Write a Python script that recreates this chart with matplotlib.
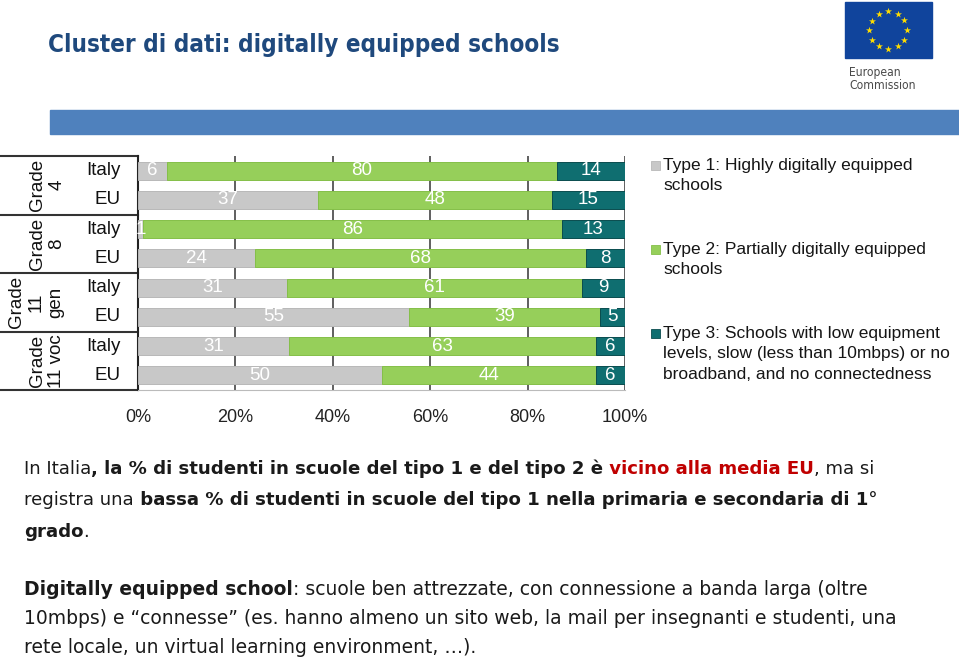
import numpy as np
import matplotlib
matplotlib.use("Agg")
import matplotlib.pyplot as plt
from matplotlib.patches import Rectangle
from matplotlib import font_manager as fm

# --- data -------------------------------------------------------------
groups = ["Grade\n4", "Grade\n8", "Grade\n11\ngen", "Grade\n11 voc"]
countries = ["Italy", "EU", "Italy", "EU", "Italy", "EU", "Italy", "EU"]
type1 = [6, 37, 1, 24, 31, 55, 31, 50]
type2 = [80, 48, 86, 68, 61, 39, 63, 44]
type3 = [14, 15, 13, 8, 9, 5, 6, 6]
legend_labels = ["Type 1: Highly digitally equipped\nschools",
                 "Type 2: Partially digitally equipped\nschools",
                 "Type 3: Schools with low equipment\nlevels, slow (less than 10mbps) or no\nbroadband, and no connectedness"]
xticks = [0, 20, 40, 60, 80, 100]
title = "Cluster di dati: digitally equipped schools"

colors = ["#c8c8c8", "#96cf5a", "#0f6e70"]
edges = ["#b8b8b8", "#84bf48", "#0a4c4e"]

W, H = 959, 659
body = "DejaVu Sans"


def find_condensed(bold):
    # look for any upright narrow / condensed face installed, else fall back
    for f in fm.fontManager.ttflist:
        cond = ("Narrow" in f.name or "Condensed" in f.name
                or str(f.stretch) in ("condensed", "semi-condensed", "extra-condensed"))
        isbold = f.weight in ("bold", 700, "semibold", 600)
        if cond and isbold == bold and f.style == "normal":
            return fm.FontProperties(fname=f.fname)
    return fm.FontProperties(family="Liberation Sans", weight="bold" if bold else "normal")


title_fp = find_condensed(True)
logo_fp = find_condensed(False)

fig = plt.figure(figsize=(W / 100, H / 100), dpi=100)
renderer = fig.canvas.get_renderer()

# background axes in pixel coordinates for slide decoration
bg = fig.add_axes([0, 0, 1, 1])
bg.set_xlim(0, W)
bg.set_ylim(H, 0)
bg.axis("off")


def fit_size(txt, width, base=10, fp=None, **kw):
    if fp is not None:
        fp = fp.copy()
        fp.set_size(base)
        t = bg.text(0, 0, txt, fontproperties=fp, **kw)
    else:
        t = bg.text(0, 0, txt, fontsize=base, **kw)
    w = t.get_window_extent(renderer).width
    t.remove()
    return base * width / w


# title
tfp = title_fp.copy()
tfp.set_size(fit_size(title, 507, fp=title_fp))
bg.text(48, 45, title, fontproperties=tfp, color="#1f497d", va="center", ha="left")

# EU logo
bg.add_patch(Rectangle((845, 2), 87, 56, color="#10449c"))
ang = np.arange(12) * np.pi / 6
bg.scatter(888 + 19 * np.cos(ang), 30 + 19 * np.sin(ang), marker="*", s=28,
           color="#ffdd00", lw=0)
lfp = logo_fp.copy()
lfp.set_size(fit_size("Commission", 66, fp=logo_fp))
bg.text(849, 76, "European", fontproperties=lfp, color="#4a4a4a", va="baseline")
bg.text(849, 89, "Commission", fontproperties=lfp, color="#4a4a4a", va="baseline")

# blue band
bg.add_patch(Rectangle((50, 110), W - 50, 24, color="#4f81bd"))

# --- chart -------------------------------------------------------------
ax = fig.add_axes([138 / W, 1 - 390 / H, (625 - 138) / W, (390 - 156) / H])
ax.set_facecolor("none")
vals = np.array([type1, type2, type3], dtype=float)
pct = vals / vals.sum(axis=0) * 100
y = np.arange(len(countries))
left = np.zeros(len(countries))
for k in range(3):
    ax.barh(y, pct[k], left=left, height=0.62, color=colors[k],
            edgecolor=edges[k], lw=0.7, zorder=3)
    for i in range(len(y)):
        ax.text(left[i] + pct[k][i] / 2, y[i], str(int(vals[k][i])), ha="center",
                va="center", color="white", fontsize=13.5, family="Liberation Sans", zorder=4)
    left += pct[k]

ax.set_xlim(0, 100)
ax.set_ylim(len(y) - 0.5, -0.5)
ax.set_xticks(xticks)
ax.set_xticklabels([f"{t}%" for t in xticks], family="Liberation Sans", fontsize=13,
                   color="#222222")
ax.set_yticks([])
ax.tick_params(axis="x", length=0, pad=14)
ax.grid(axis="x", color="#444444", lw=1.2, zorder=0)
ax.set_axisbelow(True)
for s in ["top", "right"]:
    ax.spines[s].set_visible(False)
ax.spines["left"].set_color("#222222")
ax.spines["left"].set_linewidth(1.5)
ax.spines["bottom"].set_color("#bbbbbb")

# left label table
trans = ax.get_yaxis_transform()
x0 = -138 / 487
for yb in [-0.5, 1.5, 3.5, 5.5, 7.5]:
    ax.plot([x0, 0], [yb, yb], color="#333333", lw=1.5, transform=trans, clip_on=False)
for i, c in enumerate(countries):
    ax.text(-17 / 487, y[i], c, transform=trans, ha="right", va="center",
            fontsize=13.5, family="Liberation Sans", color="#111111")
gx = [47, 47, 36, 47]
for g, lab in enumerate(groups):
    ax.text((gx[g] - 138) / 487, 2 * g + 0.5, lab, transform=trans, rotation=90,
            ha="center", va="center", multialignment="center", fontsize=13.5,
            family="Liberation Sans", color="#111111")

# legend
lg = fit_size("Type 1: Highly digitally equipped", 250, family="Liberation Sans")
for k, (lab, yy) in enumerate(zip(legend_labels, [166, 250, 334])):
    bg.add_patch(Rectangle((651, yy - 5), 9, 9, color=colors[k], ec=edges[k], lw=0.6))
    bg.text(663, yy - 8, lab, fontsize=lg, family="Liberation Sans", color="#151515",
            va="top", ha="left", linespacing=1.45)

# --- paragraphs ---------------------------------------------------------
K, RED = "#1a1a1a", "#c00000"
para1 = [
    [("In Italia", "normal", K), (", la % di studenti in scuole del tipo 1 e del tipo 2 è", "bold", K),
     (" vicino alla media EU", "bold", RED), (", ma si", "normal", K)],
    [("registra una", "normal", K),
     (" bassa % di studenti in scuole del tipo 1 nella primaria e secondaria di 1°", "bold", K)],
    [("grado", "bold", K), (".", "normal", K)],
]
para2 = [
    [("Digitally equipped school", "bold", K),
     (": scuole ben attrezzate, con connessione a banda larga (oltre", "normal", K)],
    [("10mbps) e “connesse” (es. hanno almeno un sito web, la mail per insegnanti e studenti, una", "normal", K)],
    [("rete locale, un virtual learning environment, …).", "normal", K)],
]


def draw_line(x, yb, runs, size):
    for txt, wt, col in runs:
        t = bg.text(x, yb, txt, fontsize=size, fontweight=wt, color=col, family=body,
                    va="baseline", ha="left")
        x += t.get_window_extent(renderer).width
    return x


def line_width(runs, size):
    x1 = draw_line(0, -100, runs, size)
    for t in bg.texts[-len(runs):]:
        t.remove()
    return x1


s1 = 10 * 852 / line_width(para1[0], 10)
for runs, yb in zip(para1, [474, 505, 537]):
    draw_line(24, yb, runs, s1)
s2 = 10 * 869 / line_width(para2[1], 10)
for runs, yb in zip(para2, [595, 624, 653]):
    draw_line(24, yb, runs, s2)

fig.savefig("out.png", dpi=100)
